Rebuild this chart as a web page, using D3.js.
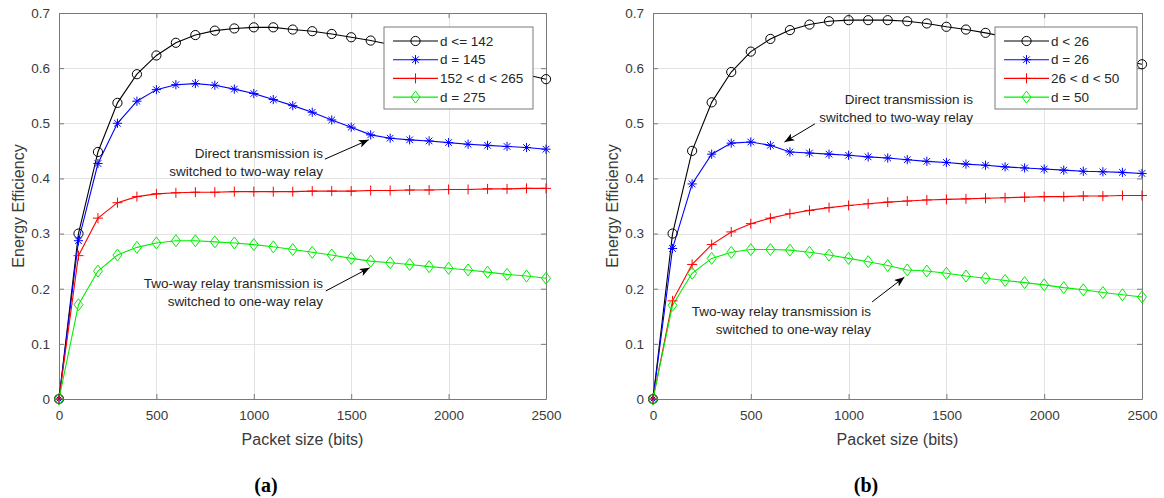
<!DOCTYPE html>
<html>
<head>
<meta charset="utf-8">
<script src="https://cdn.jsdelivr.net/npm/d3@7/dist/d3.min.js"></script>
<style>
  html, body { margin: 0; padding: 0; background: #fff; }
  svg { display: block; }
  text { font-family: "Liberation Sans", Arial, Helvetica, sans-serif; }
</style>
</head>
<body>
<svg id="chart" width="1164" height="498"></svg>
<script>
// ---------------- data ----------------
const packetSize = [0,100,200,300,400,500,600,700,800,900,1000,1100,1200,1300,1400,1500,1600,1700,1800,1900,2000,2100,2200,2300,2400,2500];
const xTicks = [0,500,1000,1500,2000,2500];
const yTicks = [0,0.1,0.2,0.3,0.4,0.5,0.6,0.7];

// panel (a)
const legendA = ["d <= 142", "d = 145", "152 < d < 265", "d = 275"];
const effA_d142 = [0,0.300,0.448,0.537,0.589,0.623,0.646,0.660,0.668,0.672,0.674,0.674,0.670,0.667,0.662,0.656,0.650,0.643,0.636,0.628,0.620,0.612,0.604,0.596,0.588,0.580];
const effA_d145 = [0,0.287,0.427,0.500,0.540,0.561,0.570,0.572,0.569,0.562,0.554,0.543,0.532,0.520,0.506,0.493,0.479,0.473,0.470,0.468,0.465,0.462,0.460,0.458,0.456,0.453];
const effA_d152_265 = [0,0.260,0.328,0.356,0.367,0.372,0.374,0.375,0.375,0.376,0.376,0.376,0.376,0.377,0.377,0.377,0.378,0.378,0.379,0.379,0.380,0.380,0.381,0.381,0.382,0.382];
const effA_d275 = [0,0.171,0.232,0.261,0.275,0.283,0.287,0.287,0.285,0.283,0.280,0.276,0.271,0.266,0.261,0.255,0.250,0.247,0.244,0.240,0.237,0.234,0.230,0.226,0.223,0.219];

// panel (b)
const legendB = ["d < 26", "d = 26", "26 < d < 50", "d = 50"];
const effB_dlt26 = [0,0.300,0.450,0.538,0.593,0.630,0.653,0.669,0.679,0.685,0.687,0.687,0.687,0.685,0.681,0.675,0.670,0.664,0.657,0.650,0.643,0.636,0.629,0.621,0.614,0.607];
const effB_d26 = [0,0.273,0.390,0.444,0.464,0.466,0.460,0.448,0.446,0.444,0.442,0.439,0.437,0.434,0.431,0.429,0.426,0.424,0.421,0.419,0.417,0.415,0.413,0.412,0.411,0.409];
const effB_d26_50 = [0,0.178,0.244,0.280,0.303,0.318,0.328,0.336,0.342,0.347,0.351,0.354,0.357,0.359,0.361,0.362,0.363,0.364,0.365,0.366,0.367,0.367,0.368,0.368,0.369,0.369];
const effB_d50 = [0,0.170,0.228,0.255,0.266,0.271,0.271,0.270,0.266,0.261,0.255,0.249,0.242,0.234,0.232,0.228,0.223,0.219,0.215,0.211,0.207,0.202,0.198,0.193,0.189,0.185];

// annotation texts
const annoA1 = ["Direct transmission is", "switched to two-way relay"];
const annoA2 = ["Two-way relay transmission is", "switched to one-way relay"];
const annoB1 = ["Direct transmission is", "switched to two-way relay"];
const annoB2 = ["Two-way relay transmission is", "switched to one-way relay"];

// ---------------- drawing ----------------
const svg = d3.select("#chart");
const colors = ["#000000", "#0000ff", "#ff0000", "#00ee00"];
const markerTypes = ["circle", "star", "plus", "diamond"];

svg.append("defs").append("marker")
  .attr("id", "arrowhead")
  .attr("viewBox", "0 0 10 8")
  .attr("refX", 10).attr("refY", 4)
  .attr("markerWidth", 11).attr("markerHeight", 8)
  .attr("markerUnits", "userSpaceOnUse")
  .attr("orient", "auto")
  .append("path").attr("d", "M0,0 L10,4 L0,8 L2.5,4 Z").attr("fill", "#000");

function drawMarker(g, type, color) {
  if (type === "circle") {
    g.append("circle").attr("r", 4.6).attr("fill", "none").attr("stroke", color).attr("stroke-width", 1);
  } else if (type === "star") {
    const r = 4.6, d = 3.3;
    g.append("path").attr("d", `M0,${-r}L0,${r}M${-r},0L${r},0M${-d},${-d}L${d},${d}M${-d},${d}L${d},${-d}`)
      .attr("stroke", color).attr("stroke-width", 1).attr("fill", "none");
  } else if (type === "plus") {
    const r = 5;
    g.append("path").attr("d", `M0,${-r}L0,${r}M${-r},0L${r},0`)
      .attr("stroke", color).attr("stroke-width", 1).attr("fill", "none");
  } else if (type === "diamond") {
    g.append("path").attr("d", "M0,-6L4.5,0L0,6L-4.5,0Z")
      .attr("stroke", color).attr("stroke-width", 1).attr("fill", "none");
  }
}

function drawPanel(cfg) {
  const x = d3.scaleLinear().domain([0, 2500]).range([cfg.x0, cfg.x1]);
  const y = d3.scaleLinear().domain([0, 0.7]).range([cfg.y0, cfg.y1]);
  const g = svg.append("g");

  // grid
  g.append("g").selectAll("line.gx").data(xTicks.slice(1, -1)).join("line")
    .attr("x1", d => Math.round(x(d)) + 0.5).attr("x2", d => Math.round(x(d)) + 0.5)
    .attr("y1", cfg.y1).attr("y2", cfg.y0)
    .attr("stroke", "#e3e3e3").attr("stroke-width", 1);
  g.append("g").selectAll("line.gy").data(yTicks.slice(1, -1)).join("line")
    .attr("y1", d => Math.round(y(d)) + 0.5).attr("y2", d => Math.round(y(d)) + 0.5)
    .attr("x1", cfg.x0).attr("x2", cfg.x1)
    .attr("stroke", "#e3e3e3").attr("stroke-width", 1);

  // axes via d3 (ticks inside)
  const axB = g.append("g").attr("transform", `translate(0,${cfg.y0})`)
    .call(d3.axisBottom(x).tickValues(xTicks).tickSizeInner(-5).tickSizeOuter(0).tickPadding(11).tickFormat(d3.format("d")));
  const axT = g.append("g").attr("transform", `translate(0,${cfg.y1})`)
    .call(d3.axisTop(x).tickValues(xTicks).tickSizeInner(-5).tickSizeOuter(0).tickFormat(""));
  const axL = g.append("g").attr("transform", `translate(${cfg.x0},0)`)
    .call(d3.axisLeft(y).tickValues(yTicks).tickSizeInner(-5).tickSizeOuter(0).tickPadding(9).tickFormat(d => d === 0 ? "0" : d3.format(".1f")(d)));
  const axR = g.append("g").attr("transform", `translate(${cfg.x1},0)`)
    .call(d3.axisRight(y).tickValues(yTicks).tickSizeInner(-5).tickSizeOuter(0).tickFormat(""));
  [axB, axT, axL, axR].forEach(a => {
    a.select(".domain").attr("stroke", "#7a7a7a").attr("stroke-width", 1);
    a.selectAll(".tick line").attr("stroke", "#7a7a7a");
    a.selectAll("text").attr("fill", "#3a3a3a").style("font-size", "13.5px")
      .style("font-family", '"Liberation Sans", Arial, sans-serif');
  });

  // axis labels
  g.append("text").attr("x", (cfg.x0 + cfg.x1) / 2).attr("y", cfg.y0 + 46)
    .attr("text-anchor", "middle").attr("fill", "#3a3a3a").style("font-size", "16px").text("Packet size (bits)");
  g.append("text").attr("transform", `translate(${cfg.x0 - 41},${(cfg.y0 + cfg.y1) / 2}) rotate(-90)`)
    .attr("text-anchor", "middle").attr("dominant-baseline", "central").attr("fill", "#3a3a3a").style("font-size", "16px").text("Energy Efficiency");

  // series
  const line = d3.line().x((d, i) => x(packetSize[i])).y(d => y(d));
  cfg.series.forEach((s, k) => {
    g.append("path").datum(s).attr("d", line).attr("fill", "none")
      .attr("stroke", colors[k]).attr("stroke-width", 1.1);
  });
  cfg.series.forEach((s, k) => {
    s.forEach((v, i) => {
      const mg = g.append("g").attr("transform", `translate(${x(packetSize[i])},${y(v)})`);
      drawMarker(mg, markerTypes[k], colors[k]);
    });
  });

  // annotations
  cfg.annos.forEach(a => {
    a.lines.forEach((t, i) => {
      g.append("text").attr("x", x(a.tx)).attr("y", y(a.ty) + i * 18)
        .attr("text-anchor", "end").attr("dominant-baseline", "central")
        .attr("fill", "#262626").style("font-size", "13.5px").text(t);
    });
    g.append("line").attr("x1", x(a.ax0)).attr("y1", y(a.ay0)).attr("x2", x(a.ax1)).attr("y2", y(a.ay1))
      .attr("stroke", "#000").attr("stroke-width", 1).attr("marker-end", "url(#arrowhead)");
  });

  // legend
  const lg = g.append("g");
  lg.append("rect").attr("x", cfg.lx).attr("y", cfg.ly).attr("width", cfg.lw).attr("height", 82)
    .attr("fill", "#fff").attr("stroke", "#7a7a7a").attr("stroke-width", 1);
  cfg.labels.forEach((lab, k) => {
    const yy = cfg.ly + 14 + k * 18.7;
    lg.append("line").attr("x1", cfg.lx + 9).attr("x2", cfg.lx + 54).attr("y1", yy).attr("y2", yy)
      .attr("stroke", colors[k]).attr("stroke-width", 1.1);
    const mg = lg.append("g").attr("transform", `translate(${cfg.lx + 31.5},${yy})`);
    drawMarker(mg, markerTypes[k], colors[k]);
    lg.append("text").attr("x", cfg.lx + 56).attr("y", yy).attr("dominant-baseline", "central")
      .attr("fill", "#262626").style("font-size", "13.5px").text(lab);
  });

  // caption
  svg.append("text").attr("x", cfg.capX).attr("y", 485).attr("text-anchor", "middle")
    .attr("dominant-baseline", "central")
    .style("font-family", '"Liberation Serif", "DejaVu Serif", serif').style("font-weight", "bold")
    .style("font-size", "20px").attr("fill", "#000").text(cfg.caption);
}

drawPanel({
  x0: 59, x1: 546, y0: 399, y1: 13,
  series: [effA_d142, effA_d145, effA_d152_265, effA_d275],
  labels: legendA, lx: 384, ly: 27, lw: 149,
  annos: [
    { lines: annoA1, tx: 1355, ty: 0.446, ax0: 1365, ay0: 0.435, ax1: 1590, ay1: 0.470 },
    { lines: annoA2, tx: 1355, ty: 0.210, ax0: 1370, ay0: 0.196, ax1: 1595, ay1: 0.238 }
  ],
  caption: "(a)", capX: 266
});
drawPanel({
  x0: 653, x1: 1142, y0: 399, y1: 13,
  series: [effB_dlt26, effB_d26, effB_d26_50, effB_d50],
  labels: legendB, lx: 995, ly: 27, lw: 142,
  annos: [
    { lines: annoB1, tx: 1636, ty: 0.544, ax0: 828, ay0: 0.499, ax1: 672, ay1: 0.466 },
    { lines: annoB2, tx: 1115, ty: 0.158, ax0: 1120, ay0: 0.176, ax1: 1285, ay1: 0.221 }
  ],
  caption: "(b)", capX: 866
});
</script>
</body>
</html>
